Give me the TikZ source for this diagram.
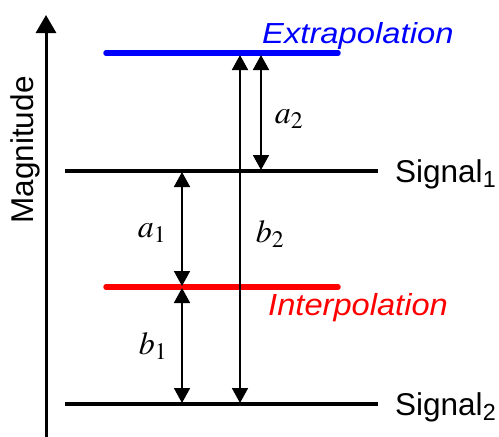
\documentclass[tikz,border=0pt]{standalone}
\usepackage{mathptmx}
\usepackage{fontspec}
\setmainfont{Liberation Sans}
\usetikzlibrary{arrows.meta}
\begin{document}
\begin{tikzpicture}[x=1pt,y=-1pt,
  lbl/.style={font=\fontsize{31.5}{38}\selectfont, inner sep=0pt},
  mlbl/.style={font=\fontsize{32}{38}\selectfont, inner sep=0pt},
  level/.style={line width=3.2pt},
  colored/.style={line width=5.5pt, line cap=round},
  dim/.style={line width=1.8pt, {Triangle[width=16pt,length=15pt]}-{Triangle[width=16pt,length=15pt]}},
  axis/.style={line width=3pt, -{Triangle[width=20pt,length=18pt]}}]
\useasboundingbox (0,0) rectangle (499,437);
% axis
\coordinate (ax0) at (46,437);
\coordinate (ax1) at (46,15);
\draw[axis] (ax0) -- (ax1);
\node[lbl, rotate=90, anchor=base] (mag) at (34,150) {Magnitude};
% levels
\coordinate (e0) at (106,53);  \coordinate (e1) at (338,53);
\coordinate (s10) at (65,171); \coordinate (s11) at (378,171);
\coordinate (i0) at (106,287); \coordinate (i1) at (338,287);
\coordinate (s20) at (65,404); \coordinate (s21) at (378,404);
\draw[level] (s10) -- (s11);
\draw[level] (s20) -- (s21);
\draw[colored, blue] (e0) -- (e1);
\draw[colored, red] (i0) -- (i1);
% labels
\node[lbl, anchor=base west, text=blue, font=\fontsize{29}{35}\selectfont\itshape, xscale=1.13] (ext) at (262,43) {Extrapolation};
\node[lbl, anchor=base west, text=red, font=\fontsize{30.5}{36}\selectfont\itshape, xscale=1.07] (int) at (268,315) {Interpolation};
\node[lbl, anchor=base west] (sig1) at (395,182) {Signal\textsubscript{1}};
\node[lbl, anchor=base west] (sig2) at (395,415) {Signal\textsubscript{2}};
% dimension arrows
\coordinate (a1t) at (182,172); \coordinate (a1b) at (182,286);
\coordinate (b1t) at (182,288); \coordinate (b1b) at (182,403);
\coordinate (b2t) at (240,55);  \coordinate (b2b) at (240,403);
\coordinate (a2t) at (261,55);  \coordinate (a2b) at (261,170);
\draw[dim] (a1t) -- (a1b);
\draw[dim] (b1t) -- (b1b);
\draw[dim] (b2t) -- (b2b);
\draw[dim] (a2t) -- (a2b);
\node[mlbl] (la1) at (152,233) {$a_1$};
\node[mlbl] (lb1) at (153,346) {$b_1$};
\node[mlbl] (lb2) at (270,234) {$b_2$};
\node[mlbl] (la2) at (289,119) {$a_2$};
\end{tikzpicture}
\end{document}
